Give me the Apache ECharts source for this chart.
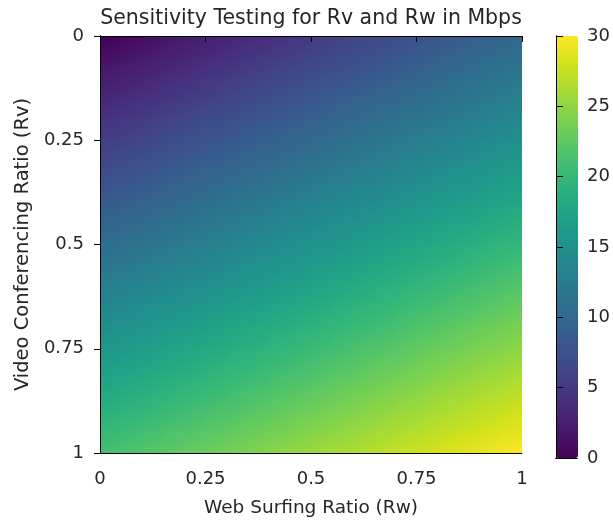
<!DOCTYPE html>
<html>
<head>
<meta charset="utf-8">
<script src="https://cdn.jsdelivr.net/npm/echarts@6/dist/echarts.min.js"></script>
<style>
html,body{margin:0;padding:0;background:#fff;}
#chart{width:613px;height:523px;}
</style>
</head>
<body>
<div id="chart"></div>
<script>
// Web surfing ratio (Rw) sample points, columns
const rwValues = [0,0.05,0.1,0.15,0.2,0.25,0.3,0.35,0.4,0.45,0.5,0.55,0.6,0.65,0.7,0.75,0.8,0.85,0.9,0.95,1];
// Video conferencing ratio (Rv) sample points, rows
const rvValues = [0,0.05,0.1,0.15,0.2,0.25,0.3,0.35,0.4,0.45,0.5,0.55,0.6,0.65,0.7,0.75,0.8,0.85,0.9,0.95,1];
// Bandwidth in Mbps, one row per Rv value, one column per Rw value
const row00 = [0,0.5,1,1.5,2,2.5,3,3.5,4,4.5,5,5.5,6,6.5,7,7.5,8,8.5,9,9.5,10];
const row01 = [1.1,1.5,2.0,2.5,3.0,3.5,4.0,4.5,5.0,5.5,6.0,6.5,7.0,7.5,8.0,8.5,9.0,9.5,10.0,10.5,11];
const row02 = [2.1,2.6,3.1,3.6,4.1,4.6,5.1,5.6,6.1,6.6,7.1,7.5,8.0,8.5,9.0,9.5,10.0,10.5,11.0,11.5,12];
const row03 = [3.2,3.6,4.1,4.6,5.1,5.6,6.1,6.6,7.1,7.6,8.1,8.6,9.1,9.6,10.0,10.5,11.0,11.5,12.0,12.5,13];
const row04 = [4.2,4.7,5.2,5.7,6.2,6.7,7.1,7.6,8.1,8.6,9.1,9.6,10.1,10.6,11.1,11.6,12.0,12.5,13.0,13.5,14];
const row05 = [5.3,5.7,6.2,6.7,7.2,7.7,8.2,8.7,9.2,9.6,10.1,10.6,11.1,11.6,12.1,12.6,13.1,13.5,14.0,14.5,15];
const row06 = [6.3,6.8,7.3,7.8,8.2,8.7,9.2,9.7,10.2,10.7,11.2,11.6,12.1,12.6,13.1,13.6,14.1,14.5,15.0,15.5,16];
const row07 = [7.4,7.8,8.3,8.8,9.3,9.8,10.2,10.7,11.2,11.7,12.2,12.7,13.1,13.6,14.1,14.6,15.1,15.6,16.0,16.5,17];
const row08 = [8.4,8.9,9.4,9.8,10.3,10.8,11.3,11.8,12.2,12.7,13.2,13.7,14.2,14.6,15.1,15.6,16.1,16.6,17.0,17.5,18];
const row09 = [9.5,9.9,10.4,10.9,11.4,11.8,12.3,12.8,13.3,13.8,14.2,14.7,15.2,15.7,16.1,16.6,17.1,17.6,18.0,18.5,19];
const row10 = [10.5,11.0,11.5,11.9,12.4,12.9,13.4,13.8,14.3,14.8,15.3,15.7,16.2,16.7,17.2,17.6,18.1,18.6,19.1,19.5,20];
const row11 = [11.6,12.0,12.5,13.0,13.4,13.9,14.4,14.9,15.3,15.8,16.3,16.7,17.2,17.7,18.2,18.6,19.1,19.6,20.1,20.5,21];
const row12 = [12.6,13.1,13.5,14.0,14.5,14.9,15.4,15.9,16.4,16.8,17.3,17.8,18.2,18.7,19.2,19.7,20.1,20.6,21.1,21.5,22];
const row13 = [13.7,14.1,14.6,15.1,15.5,16.0,16.5,16.9,17.4,17.9,18.3,18.8,19.3,19.7,20.2,20.7,21.1,21.6,22.1,22.5,23];
const row14 = [14.7,15.2,15.6,16.1,16.6,17.0,17.5,18.0,18.4,18.9,19.4,19.8,20.3,20.7,21.2,21.7,22.1,22.6,23.1,23.5,24];
const row15 = [15.8,16.2,16.7,17.1,17.6,18.1,18.5,19.0,19.5,19.9,20.4,20.8,21.3,21.8,22.2,22.7,23.2,23.6,24.1,24.5,25];
const row16 = [16.8,17.3,17.7,18.2,18.6,19.1,19.6,20.0,20.5,20.9,21.4,21.9,22.3,22.8,23.2,23.7,24.2,24.6,25.1,25.5,26];
const row17 = [17.9,18.3,18.8,19.2,19.7,20.1,20.6,21.1,21.5,22.0,22.4,22.9,23.3,23.8,24.3,24.7,25.2,25.6,26.1,26.5,27];
const row18 = [18.9,19.4,19.8,20.3,20.7,21.2,21.6,22.1,22.5,23.0,23.5,23.9,24.4,24.8,25.3,25.7,26.2,26.6,27.1,27.5,28];
const row19 = [20.0,20.4,20.9,21.3,21.8,22.2,22.7,23.1,23.6,24.0,24.5,24.9,25.4,25.8,26.3,26.7,27.2,27.6,28.1,28.5,29];
const row20 = [21.0,21.5,21.9,22.4,22.8,23.3,23.7,24.2,24.6,25.1,25.5,26.0,26.4,26.9,27.3,27.8,28.2,28.7,29.1,29.6,30];
const rows = [row00,row01,row02,row03,row04,row05,row06,row07,row08,row09,row10,row11,row12,row13,row14,row15,row16,row17,row18,row19,row20];

// Tick labels
const axisTicks = [0, 0.25, 0.5, 0.75, 1];
const colorTicks = [0, 5, 10, 15, 20, 25, 30];
const colorMin = 0, colorMax = 30;

const titleText = 'Sensitivity Testing for Rv and Rw in Mbps';
const xName = 'Web Surfing Ratio (Rw)';
const yName = 'Video Conferencing Ratio (Rv)';

const viridis = ['#440154','#481a6c','#472f7d','#414487','#39568c','#31688e','#2a788e','#23888e','#1f988b','#22a884','#35b779','#54c568','#7ad151','#a5db36','#d2e21b','#fde725'];

// one patch between each 2x2 block of neighbouring samples
const patchData = [];
for (let i = 0; i < rvValues.length - 1; i++) {
  for (let j = 0; j < rwValues.length - 1; j++) {
    const vc = (rows[i][j] + rows[i][j + 1] + rows[i + 1][j] + rows[i + 1][j + 1]) / 4;
    patchData.push([j, i, vc]);
  }
}

function valueColor(v) {
  const t = Math.max(0, Math.min(1, (v - colorMin) / (colorMax - colorMin)));
  return echarts.color.lerp(t, viridis);
}

function renderPatch(params, api) {
  const j = api.value(0), i = api.value(1);
  const pA = api.coord([rwValues[j], rvValues[i]]);
  const pB = api.coord([rwValues[j + 1], rvValues[i + 1]]);
  const x = Math.min(pA[0], pB[0]), y = Math.min(pA[1], pB[1]);
  const w = Math.abs(pB[0] - pA[0]) + 0.8, h = Math.abs(pB[1] - pA[1]) + 0.8;
  const v00 = rows[i][j], v01 = rows[i][j + 1], v10 = rows[i + 1][j], v11 = rows[i + 1][j + 1];
  const gx = (v01 - v00 + v11 - v10) / 2;
  const gy = (v10 - v00 + v11 - v01) / 2;
  const vc = (v00 + v01 + v10 + v11) / 4;
  const G = Math.hypot(gx, gy);
  let fill;
  if (G < 1e-9) {
    fill = valueColor(vc);
  } else {
    const L = 0.7072, nx = gx / G, ny = gy / G;
    const vA = vc - G * L, vB = vc + G * L;
    const stops = [];
    for (let k = 0; k <= 6; k++) {
      const t = k / 6;
      stops.push({ offset: t, color: valueColor(vA + (vB - vA) * t) });
    }
    fill = new echarts.graphic.LinearGradient(0.5 - nx * L, 0.5 - ny * L, 0.5 + nx * L, 0.5 + ny * L, stops);
  }
  return { type: 'rect', shape: { x: x, y: y, width: w, height: h }, style: { fill: fill } };
}

const FONT = 'DejaVu Sans';
const TXT = '#262626';
const LINE = { show: true, lineStyle: { color: '#000', width: 1 } };

const plotGrid = { left: 100, top: 36, width: 422, height: 422 };
const cbGrid = { left: 556, top: 36, width: 22, height: 422 };

const tickFmt = list => v => String(list.find(t => Math.abs(t - v) < 1e-9) ?? v);

const chart = echarts.init(document.getElementById('chart'), null, { renderer: 'canvas' });
chart.setOption({
  animation: false,
  backgroundColor: '#fff',
  textStyle: { fontFamily: FONT },
  title: {
    text: titleText, left: 311, top: 8, padding: 0, textAlign: 'center',
    textStyle: { fontFamily: FONT, fontSize: 20.5, fontWeight: 'normal', color: TXT }
  },
  grid: [
    Object.assign({ containLabel: false }, plotGrid),
    Object.assign({ containLabel: false }, cbGrid)
  ],
  xAxis: [
    { type: 'value', gridIndex: 0, min: 0, max: 1, interval: 0.25, position: 'bottom', z: 10,
      axisLine: LINE, axisTick: { show: true, length: 6, lineStyle: { color: '#000' } },
      axisLabel: { fontFamily: FONT, fontSize: 18, color: TXT, margin: 17, formatter: tickFmt(axisTicks) },
      splitLine: { show: false },
      name: xName, nameLocation: 'middle', nameGap: 46,
      nameTextStyle: { fontFamily: FONT, fontSize: 18.5, color: TXT } },
    { type: 'value', gridIndex: 0, min: 0, max: 1, position: 'top', z: 10,
      axisLine: LINE, axisTick: { show: false }, axisLabel: { show: false }, splitLine: { show: false } },
    { type: 'value', gridIndex: 1, min: 0, max: 1, position: 'bottom', z: 10,
      axisLine: LINE, axisTick: { show: false }, axisLabel: { show: false }, splitLine: { show: false } },
    { type: 'value', gridIndex: 1, min: 0, max: 1, position: 'top', z: 10,
      axisLine: LINE, axisTick: { show: false }, axisLabel: { show: false }, splitLine: { show: false } }
  ],
  yAxis: [
    { type: 'value', gridIndex: 0, min: 0, max: 1, interval: 0.25, inverse: true, position: 'left', z: 10,
      axisLine: LINE, axisTick: { show: true, length: 6, lineStyle: { color: '#000' } },
      axisLabel: { fontFamily: FONT, fontSize: 18, color: TXT, margin: 16, padding: [10, 0, 0, 0],
        formatter: tickFmt(axisTicks) },
      splitLine: { show: false },
      name: yName, nameLocation: 'middle', nameGap: 65, nameRotate: 90,
      nameTextStyle: { fontFamily: FONT, fontSize: 19.5, color: TXT } },
    { type: 'value', gridIndex: 0, min: 0, max: 1, position: 'right', z: 10,
      axisLine: LINE, axisTick: { show: false }, axisLabel: { show: false }, splitLine: { show: false } },
    { type: 'value', gridIndex: 1, min: colorMin, max: colorMax, interval: 5, position: 'right', z: 10,
      axisLine: LINE, axisTick: { show: true, length: 7, lineStyle: { color: '#000' } },
      axisLabel: { fontFamily: FONT, fontSize: 18, color: TXT, margin: 10, padding: [8, 0, 0, 0],
        formatter: tickFmt(colorTicks) },
      splitLine: { show: false } },
    { type: 'value', gridIndex: 1, min: colorMin, max: colorMax, position: 'left', z: 10,
      axisLine: LINE, axisTick: { show: false }, axisLabel: { show: false }, splitLine: { show: false } }
  ],
  visualMap: {
    type: 'continuous', min: colorMin, max: colorMax, calculable: false, hoverLink: false,
    seriesIndex: 0, dimension: 2, orient: 'vertical', left: cbGrid.left, top: cbGrid.top, padding: 0,
    itemWidth: cbGrid.width, itemHeight: cbGrid.height, text: null, showLabel: false,
    inRange: { color: viridis }
  },
  series: [{
    type: 'custom', xAxisIndex: 0, yAxisIndex: 0, data: patchData, clip: true,
    renderItem: renderPatch, silent: true
  }]
});
</script>
</body>
</html>
